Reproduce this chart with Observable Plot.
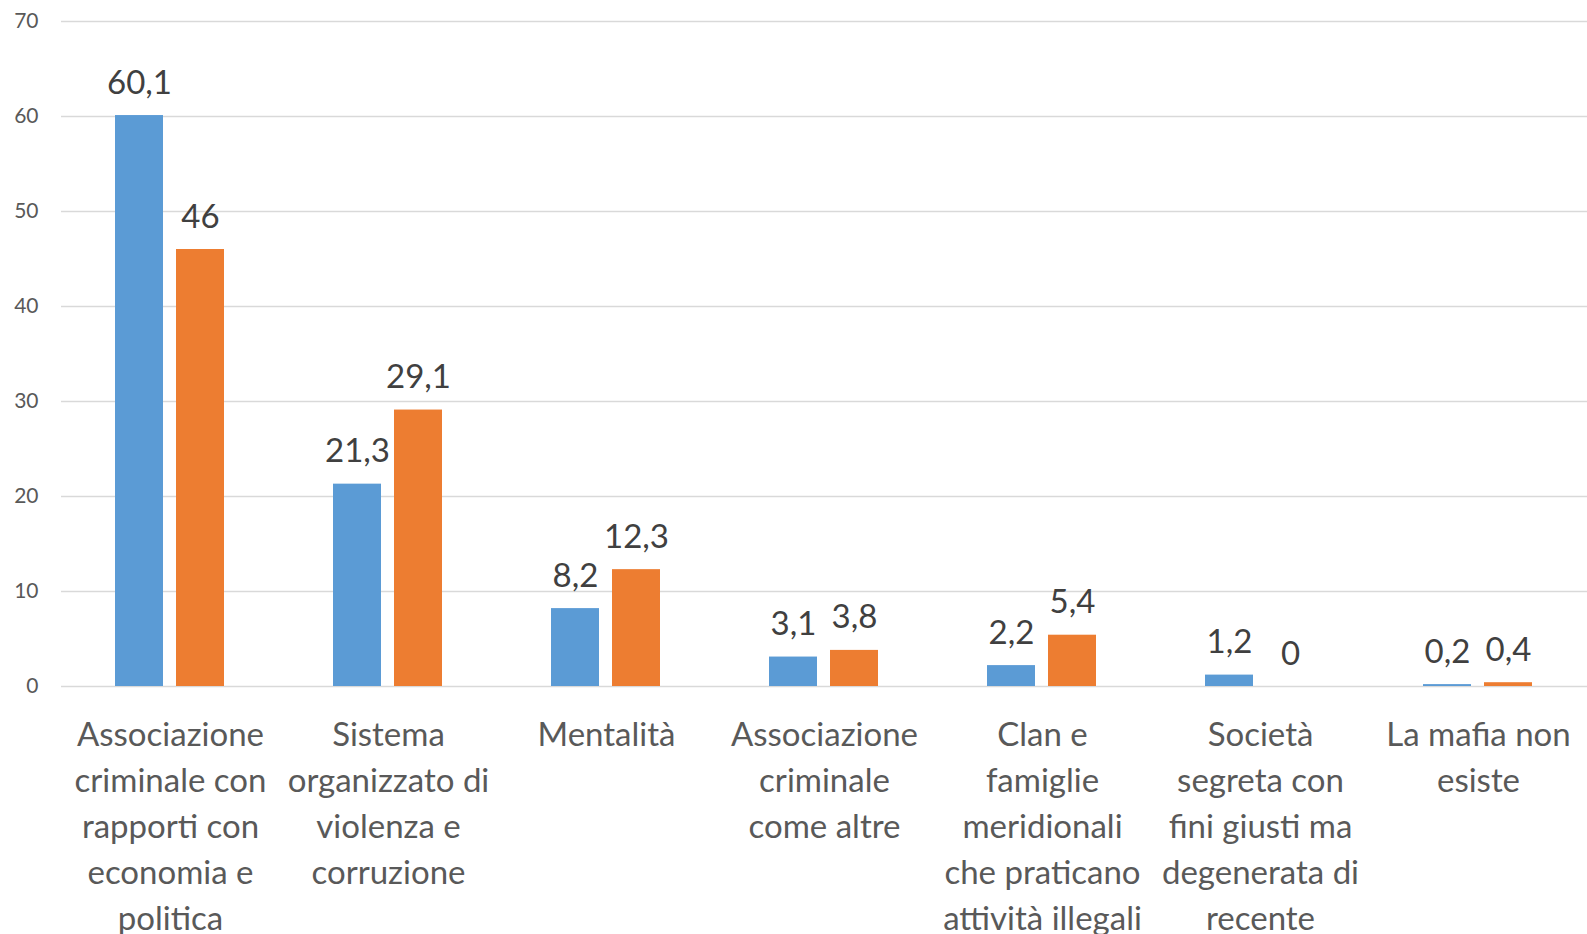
<!DOCTYPE html>
<html>
<head>
<meta charset="utf-8">
<script src="https://cdn.jsdelivr.net/npm/d3@7"></script>
<script src="https://cdn.jsdelivr.net/npm/@observablehq/plot@0.6"></script>
<style>
  html, body { margin: 0; padding: 0; background: #ffffff; }
  #chart svg { display: block; }
</style>
</head>
<body>
<div id="chart"></div>
<script>
const categories = [
  "Associazione criminale con rapporti con economia e politica",
  "Sistema organizzato di violenza e corruzione",
  "Mentalità",
  "Associazione criminale come altre",
  "Clan e famiglie meridionali che praticano attività illegali",
  "Società segreta con fini giusti ma degenerata di recente",
  "La mafia non esiste"
];
const tickLabels = [
  "Associazione\ncriminale con\nrapporti con\neconomia e\npolitica",
  "Sistema\norganizzato di\nviolenza e\ncorruzione",
  "Mentalità",
  "Associazione\ncriminale\ncome altre",
  "Clan e\nfamiglie\nmeridionali\nche praticano\nattività illegali",
  "Società\nsegreta con\nfini giusti ma\ndegenerata di\nrecente",
  "La mafia non\nesiste"
];
const seriesNames = ["Serie 1", "Serie 2"];
const values1 = [60.1, 21.3, 8.2, 3.1, 2.2, 1.2, 0.2];
const values2 = [46, 29.1, 12.3, 3.8, 5.4, 0, 0.4];
const yTicks = [0, 10, 20, 30, 40, 50, 60, 70];
const colors = ["#5B9BD5", "#ED7D31"];

const data = categories.flatMap((c, i) => [
  {cat: c, series: seriesNames[0], value: values1[i]},
  {cat: c, series: seriesNames[1], value: values2[i]}
]);
const labelOf = new Map(categories.map((c, i) => [c, tickLabels[i]]));
const fmt = v => String(v).replace(".", ",");

const chart = Plot.plot({
  width: 1587,
  height: 934,
  marginTop: 21,
  marginBottom: 248,
  marginLeft: 60,
  marginRight: 0,
  style: {fontFamily: "Lato, 'Open Sans', sans-serif", background: "#ffffff"},
  fx: {domain: categories, padding: 0, axis: null},
  x: {domain: seriesNames, paddingInner: 13 / 62, paddingOuter: 0.864, axis: null},
  y: {domain: [0, 70], axis: null},
  color: {domain: seriesNames, range: colors},
  marks: [
    Plot.gridY(yTicks, {stroke: "#d9d9d9", strokeOpacity: 1, strokeWidth: 1.5}),
    Plot.axisY(yTicks, {tickSize: 0, tickPadding: 23, fontSize: 21, fill: "#595959", label: null}),
    Plot.barY(data, {fx: "cat", x: "series", y: "value", fill: "series"}),
    Plot.text(data, {fx: "cat", x: "series", y: "value", text: d => fmt(d.value),
      lineAnchor: "bottom", dy: -22, fontSize: 33, fill: "#404040"}),
    Plot.text(categories, {fx: d => d, text: d => labelOf.get(d), frameAnchor: "bottom",
      lineAnchor: "top", dy: 27, fontSize: 33, lineHeight: 1.39, fill: "#595959"})
  ]
});
document.getElementById("chart").appendChild(chart);
</script>
</body>
</html>
